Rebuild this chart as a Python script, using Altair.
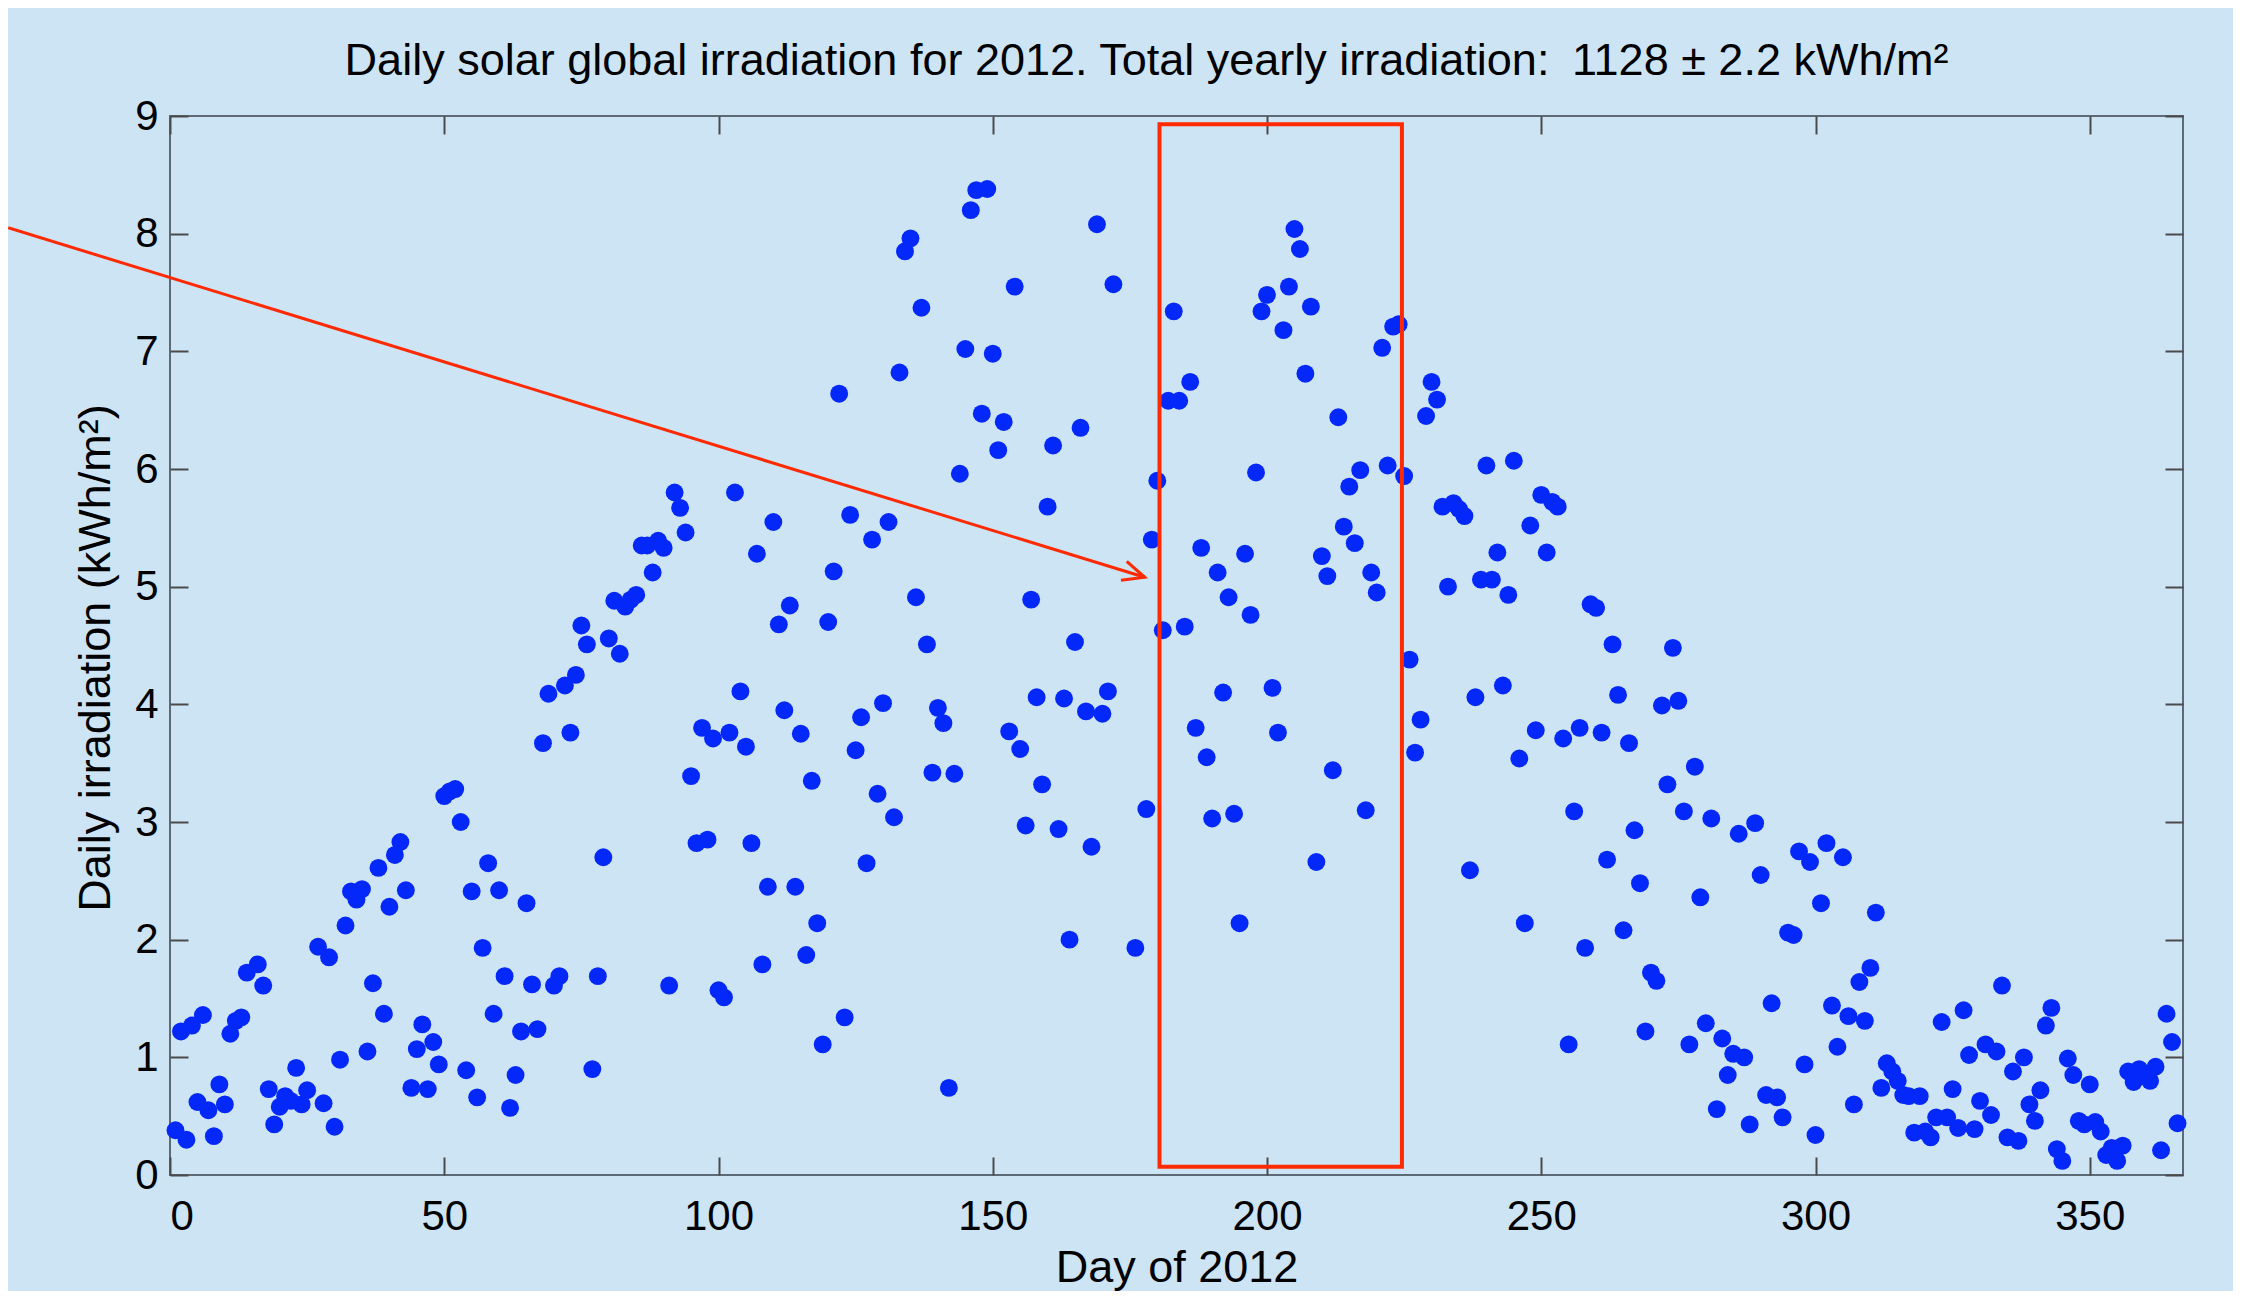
import math
import altair as alt
import pandas as pd

# ---- data ----
days = [1, 2, 3, 4, 5, 6, 7, 8, 9, 10, 11, 12, 13, 14, 16, 17, 18, 19, 20, 21,
        22, 23, 24, 25, 27, 28, 29, 30, 31, 32, 33, 34, 35, 36, 37, 38, 39, 40, 41, 42,
        43, 44, 45, 46, 47, 48, 49, 50, 51, 52, 53, 54, 55, 56, 57, 58, 59, 60, 61, 62,
        63, 64, 65, 66, 67, 68, 69, 70, 71, 72, 73, 74, 75, 76, 77, 78, 79, 80, 81, 82,
        83, 84, 85, 86, 87, 88, 89, 90, 91, 92, 93, 94, 95, 96, 97, 98, 99, 100, 101, 102,
        103, 104, 105, 106, 107, 108, 109, 110, 111, 112, 113, 114, 115, 116, 117, 118, 119, 120, 121, 122,
        123, 124, 125, 126, 127, 128, 129, 130, 131, 132, 133, 134, 135, 136, 137, 138, 139, 140, 141, 142,
        143, 144, 145, 146, 147, 148, 149, 150, 151, 152, 153, 154, 155, 156, 157, 158, 159, 160, 161, 162,
        163, 164, 165, 166, 167, 168, 169, 170, 171, 172, 176, 178, 179, 180, 181, 182, 183, 184, 185, 186,
        187, 188, 189, 190, 191, 192, 193, 194, 195, 196, 197, 198, 199, 200, 201, 202, 203, 204, 205, 206,
        207, 208, 209, 210, 211, 212, 213, 214, 215, 216, 217, 218, 219, 220, 221, 222, 223, 224, 225, 226,
        227, 228, 229, 230, 231, 232, 233, 234, 235, 236, 237, 238, 239, 240, 241, 242, 243, 244, 245, 246,
        247, 248, 249, 250, 251, 252, 253, 254, 255, 256, 257, 258, 259, 260, 261, 262, 263, 264, 265, 266,
        267, 268, 269, 270, 271, 272, 273, 274, 275, 276, 277, 278, 279, 280, 281, 282, 283, 284, 285, 286,
        287, 288, 289, 290, 291, 292, 293, 294, 295, 296, 297, 298, 299, 300, 301, 302, 303, 304, 305, 306,
        307, 308, 309, 310, 311, 312, 313, 314, 315, 316, 317, 318, 319, 320, 321, 322, 323, 324, 325, 326,
        327, 328, 329, 330, 331, 332, 333, 334, 335, 336, 337, 338, 339, 340, 341, 342, 343, 344, 345, 346,
        347, 348, 349, 350, 351, 352, 353, 354, 355, 356, 357, 358, 359, 360, 361, 362, 363, 364, 365, 366]

irradiation = [0.38, 1.22, 0.30, 1.27, 0.62, 1.36, 0.55, 0.33, 0.77, 0.60, 1.20, 1.31, 1.34, 1.72, 1.79, 1.61, 0.73, 0.43, 0.58, 0.67,
               0.63, 0.91, 0.60, 0.72, 1.94, 0.61, 1.85, 0.41, 0.98, 2.12, 2.41, 2.34, 2.43, 1.05, 1.63, 2.61, 1.37, 2.28, 2.72, 2.83,
               2.42, 0.74, 1.07, 1.28, 0.73, 1.13, 0.94, 3.22, 3.26, 3.28, 3.00, 0.89, 2.41, 0.66, 1.93, 2.65, 1.37, 2.42, 1.69, 0.57,
               0.85, 1.22, 2.31, 1.62, 1.24, 3.67, 4.09, 1.61, 1.69, 4.16, 3.76, 4.25, 4.67, 4.51, 0.90, 1.69, 2.70, 4.56, 4.88, 4.43,
               4.83, 4.89, 4.93, 5.35, 5.35, 5.12, 5.39, 5.33, 1.61, 5.80, 5.67, 5.46, 3.39, 2.82, 3.80, 2.85, 3.71, 1.57, 1.51, 3.76,
               5.80, 4.11, 3.64, 2.82, 5.28, 1.79, 2.45, 5.55, 4.68, 3.95, 4.84, 2.45, 3.75, 1.87, 3.35, 2.14, 1.11, 4.70, 5.13, 6.64,
               1.34, 5.61, 3.61, 3.89, 2.65, 5.40, 3.24, 4.01, 5.55, 3.04, 6.82, 7.85, 7.96, 4.91, 7.37, 4.51, 3.42, 3.97, 3.84, 0.74,
               3.41, 5.96, 7.02, 8.20, 8.37, 6.47, 8.38, 6.98, 6.16, 6.40, 3.77, 7.55, 3.62, 2.97, 4.89, 4.06, 3.32, 5.68, 6.20, 2.94,
               4.05, 2.00, 4.53, 6.35, 3.94, 2.79, 8.08, 3.92, 4.11, 7.57, 1.93, 3.11, 5.40, 5.90, 4.63, 6.58, 7.34, 6.58, 4.66, 6.74,
               3.80, 5.33, 3.55, 3.03, 5.12, 4.10, 4.91, 3.07, 2.14, 5.28, 4.76, 5.97, 7.34, 7.48, 4.14, 3.76, 7.18, 7.55, 8.04, 7.87,
               6.81, 7.38, 2.66, 5.26, 5.09, 3.44, 6.44, 5.51, 5.85, 5.37, 5.99, 3.10, 5.12, 4.95, 7.03, 6.03, 7.21, 7.23, 5.94, 4.38,
               3.59, 3.87, 6.45, 6.74, 6.59, 5.68, 5.00, 5.71, 5.66, 5.60, 2.59, 4.06, 5.06, 6.03, 5.06, 5.29, 4.16, 4.93, 6.07, 3.54,
               2.14, 5.52, 3.78, 5.78, 5.29, 5.72, 5.68, 3.71, 1.11, 3.09, 3.80, 1.93, 4.85, 4.82, 3.76, 2.68, 4.51, 4.08, 2.08, 3.67,
               2.93, 2.48, 1.22, 1.72, 1.65, 3.99, 3.32, 4.48, 4.03, 3.09, 1.11, 3.47, 2.36, 1.29, 3.03, 0.56, 1.16, 0.85, 1.03, 2.90,
               1.00, 0.43, 2.99, 2.55, 0.68, 1.46, 0.66, 0.49, 2.06, 2.04, 2.75, 0.94, 2.66, 0.34, 2.31, 2.82, 1.44, 1.09, 2.70, 1.35,
               0.60, 1.64, 1.31, 1.76, 2.23, 0.74, 0.95, 0.88, 0.80, 0.68, 0.67, 0.36, 0.67, 0.37, 0.32, 0.49, 1.30, 0.49, 0.73, 0.40,
               1.40, 1.02, 0.39, 0.63, 1.11, 0.51, 1.05, 1.61, 0.32, 0.88, 0.29, 1.00, 0.60, 0.46, 0.72, 1.27, 1.42, 0.22, 0.12, 0.99,
               0.85, 0.46, 0.43, 0.77, 0.45, 0.37, 0.17, 0.23, 0.12, 0.25, 0.88, 0.79, 0.90, 0.84, 0.80, 0.92, 0.21, 1.37, 1.13, 0.44]

x_ticks = [0, 50, 100, 150, 200, 250, 300, 350]
y_ticks = [0, 1, 2, 3, 4, 5, 6, 7, 8, 9]

# annotation: highlighted window and arrow (data coordinates)
box_x = [180.4, 224.6]
box_y = [0.07, 8.93]
arrow_from = [-29.5, 8.05]
arrow_to = [177.7, 5.08]

TITLE = "Daily solar global irradiation for 2012. Total yearly irradiation:\u20021128 \u00b1 2.2 kWh/m\u00b2"

# ---- layout ----
W, H = 2013, 1059
XDOM = [0, 367]
YDOM = [0, 9]
TICK = 18
FONT = "Liberation Sans"
BLUE = "#0528fa"
RED = "#ff2a00"
BG = "#cde4f5"

df = pd.DataFrame({"day": days, "val": irradiation})
box_df = pd.DataFrame({"x1": [box_x[0]], "x2": [box_x[1]], "y1": [box_y[0]], "y2": [box_y[1]]})
arrow_df = pd.DataFrame({"x1": [arrow_from[0]], "y1": [arrow_from[1]],
                         "x2": [arrow_to[0]], "y2": [arrow_to[1]]})
head_df = pd.DataFrame({"x": [arrow_to[0]], "y": [arrow_to[1]]})

# screen angle of the arrow (clockwise degrees)
dxp = (arrow_to[0] - arrow_from[0]) * W / (XDOM[1] - XDOM[0])
dyp = (arrow_from[1] - arrow_to[1]) * H / (YDOM[1] - YDOM[0])
angle = math.degrees(math.atan2(dyp, dxp))

xs = alt.Scale(domain=XDOM, nice=False, zero=False)
ys = alt.Scale(domain=YDOM, nice=False, zero=False)

ax_bottom = alt.Axis(values=x_ticks, orient="bottom", offset=-TICK, tickSize=TICK, domain=False,
                     labelPadding=21, title="Day of 2012", titlePadding=8, titleFontSize=45, grid=False)
ax_left = alt.Axis(values=y_ticks, orient="left", offset=-TICK, tickSize=TICK, domain=False,
                   labelPadding=12, title="Daily irradiation (kWh/m\u00b2)", titlePadding=16,
                   titleFontSize=45, titleY=H / 2 + 12, grid=False)
ax_top = alt.Axis(values=x_ticks, orient="top", offset=-TICK, tickSize=TICK, domain=False,
                  labels=False, title=None, grid=False)
ax_right = alt.Axis(values=y_ticks, orient="right", offset=-TICK, tickSize=TICK, domain=False,
                    labels=False, title=None, grid=False)

points = alt.Chart(df).mark_circle(size=320, color=BLUE, opacity=1).encode(
    x=alt.X("day:Q", scale=xs, axis=ax_bottom),
    y=alt.Y("val:Q", scale=ys, axis=ax_left),
)

box = alt.Chart(box_df).mark_rect(fillOpacity=0, stroke=RED, strokeWidth=4).encode(
    x=alt.X("x1:Q", scale=xs, axis=ax_top),
    x2="x2:Q",
    y=alt.Y("y1:Q", scale=ys, axis=ax_right),
    y2="y2:Q",
)

arrow = alt.Chart(arrow_df).mark_rule(color=RED, strokeWidth=3).encode(
    x=alt.X("x1:Q", scale=xs, axis=None), x2="x2:Q",
    y=alt.Y("y1:Q", scale=ys, axis=None), y2="y2:Q",
)

head = alt.Chart(head_df).mark_point(
    shape="M-1,-0.45L0,0L-1,0.45", size=1900, filled=False, stroke=RED, strokeWidth=3,
    angle=angle, opacity=1,
).encode(x=alt.X("x:Q", scale=xs, axis=None), y=alt.Y("y:Q", scale=ys, axis=None))

chart = alt.layer(points, box, arrow, head).resolve_axis(
    x="independent", y="independent"
).properties(
    width=W, height=H,
    background=BG,
    padding={"left": 162, "top": 108, "right": 50, "bottom": 116},
    autosize=alt.AutoSizeParams(type="none"),
    title=alt.TitleParams(TITLE, font=FONT, fontSize=45, fontWeight="normal", color="black",
                          anchor="middle", offset=11, dx=-30),
).configure_view(
    fill=BG, stroke="#5d6a76", strokeWidth=2,
).configure_axis(
    labelFont=FONT, labelFontSize=42, labelColor="black",
    titleFont=FONT, titleFontSize=45, titleFontWeight="normal", titleColor="black",
    tickColor="#4a4a4a", tickWidth=2,
)

chart.save("out.html", embed_options={"renderer": "svg", "actions": False})
